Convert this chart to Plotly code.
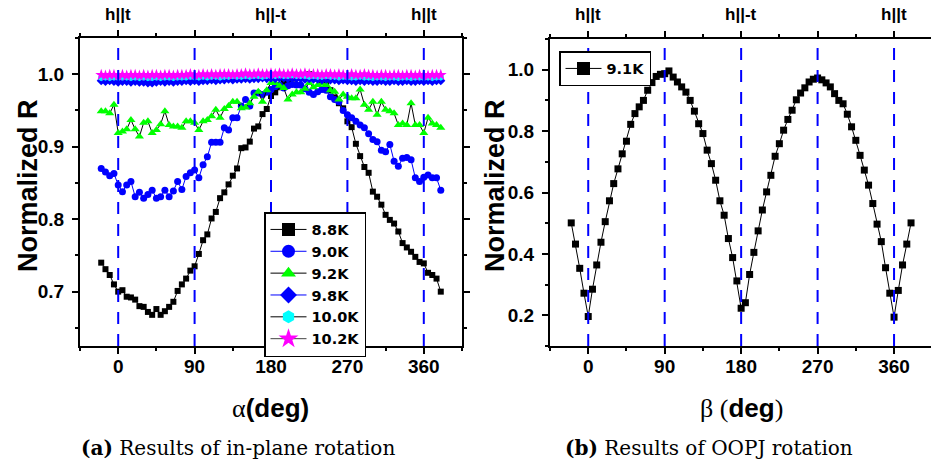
import plotly.graph_objects as go

# ---------------- data ----------------
angles = list(range(-20, 381, 5))  # rotation angle (deg), 81 points

r_88 = [0.740, 0.731, 0.723, 0.710, 0.700, 0.702, 0.693, 0.692, 0.689, 0.680,
        0.679, 0.672, 0.668, 0.676, 0.668, 0.673, 0.679, 0.686, 0.701, 0.710,
        0.718, 0.729, 0.735, 0.752, 0.771, 0.779, 0.801, 0.810, 0.829, 0.837,
        0.848, 0.860, 0.870, 0.898, 0.899, 0.907, 0.925, 0.928, 0.945, 0.952,
        0.970, 0.975, 0.982, 0.988, 0.992, 0.994, 0.996, 0.997, 0.998, 1.000,
        0.997, 0.994, 0.990, 0.985, 0.978, 0.968, 0.960, 0.953, 0.935, 0.927,
        0.904, 0.887, 0.872, 0.864, 0.838, 0.831, 0.820, 0.806, 0.799, 0.794,
        0.783, 0.767, 0.761, 0.755, 0.748, 0.741, 0.739, 0.726, 0.723, 0.718,
        0.700]

r_90 = [0.870, 0.865, 0.860, 0.863, 0.847, 0.838, 0.847, 0.852, 0.831, 0.837,
        0.829, 0.834, 0.840, 0.829, 0.831, 0.840, 0.831, 0.839, 0.852, 0.841,
        0.859, 0.864, 0.868, 0.857, 0.875, 0.886, 0.906, 0.906, 0.906, 0.926,
        0.923, 0.940, 0.940, 0.956, 0.965, 0.956, 0.974, 0.974, 0.972, 0.975,
        0.979, 0.983, 0.985, 0.981, 0.984, 0.986, 0.985, 0.985, 0.980, 0.975,
        0.972, 0.976, 0.979, 0.978, 0.969, 0.965, 0.962, 0.950, 0.944, 0.940,
        0.935, 0.930, 0.926, 0.918, 0.910, 0.907, 0.895, 0.893, 0.903, 0.880,
        0.873, 0.884, 0.885, 0.882, 0.857, 0.852, 0.858, 0.861, 0.857, 0.857,
        0.840]

r_92 = [0.949, 0.949, 0.946, 0.958, 0.919, 0.921, 0.924, 0.937, 0.924, 0.914,
        0.933, 0.935, 0.919, 0.923, 0.931, 0.949, 0.930, 0.928, 0.928, 0.926,
        0.935, 0.935, 0.933, 0.923, 0.935, 0.937, 0.942, 0.951, 0.940, 0.952,
        0.956, 0.962, 0.962, 0.953, 0.954, 0.960, 0.969, 0.976, 0.962, 0.978,
        0.988, 0.988, 0.984, 0.981, 0.965, 0.972, 0.975, 0.975, 0.980, 0.988,
        0.982, 0.985, 0.987, 0.985, 0.978, 0.976, 0.965, 0.972, 0.969, 0.967,
        0.967, 0.979, 0.958, 0.951, 0.962, 0.944, 0.962, 0.951, 0.949, 0.946,
        0.930, 0.932, 0.930, 0.960, 0.930, 0.930, 0.919, 0.940, 0.932, 0.930,
        0.926]

r_98 = [0.991, 0.990, 0.991, 0.990, 0.989, 0.990, 0.990, 0.989, 0.990, 0.989,
        0.989, 0.988, 0.988, 0.989, 0.990, 0.989, 0.990, 0.989, 0.990, 0.990,
        0.991, 0.990, 0.991, 0.990, 0.991, 0.991, 0.992, 0.991, 0.992, 0.992,
        0.993, 0.992, 0.993, 0.993, 0.994, 0.993, 0.994, 0.994, 0.995, 0.994,
        0.995, 0.994, 0.995, 0.995, 0.994, 0.995, 0.994, 0.994, 0.993, 0.994,
        0.993, 0.993, 0.992, 0.993, 0.992, 0.992, 0.991, 0.992, 0.991, 0.991,
        0.990, 0.991, 0.990, 0.991, 0.990, 0.990, 0.991, 0.990, 0.990, 0.991,
        0.990, 0.990, 0.991, 0.990, 0.990, 0.991, 0.990, 0.991, 0.990, 0.991,
        0.991]

r_100 = [0.995, 0.996, 0.995, 0.996, 0.995, 0.996, 0.996, 0.995, 0.996, 0.995,
         0.996, 0.995, 0.995, 0.996, 0.995, 0.996, 0.996, 0.995, 0.996, 0.996,
         0.996, 0.997, 0.996, 0.996, 0.997, 0.996, 0.997, 0.997, 0.996, 0.997,
         0.997, 0.998, 0.997, 0.997, 0.998, 0.997, 0.998, 0.998, 0.997, 0.998,
         0.998, 0.998, 0.999, 0.998, 0.998, 0.999, 0.998, 0.998, 0.998, 0.997,
         0.998, 0.997, 0.997, 0.998, 0.997, 0.997, 0.996, 0.997, 0.996, 0.996,
         0.996, 0.997, 0.996, 0.996, 0.995, 0.996, 0.996, 0.995, 0.996, 0.996,
         0.995, 0.996, 0.996, 0.995, 0.996, 0.996, 0.995, 0.996, 0.995, 0.996,
         0.996]

r_102 = [0.999, 0.998, 0.999, 0.999, 0.998, 0.999, 0.998, 0.999, 0.999, 0.998,
         0.999, 0.998, 0.999, 0.999, 0.998, 0.999, 0.999, 0.998, 0.999, 0.999,
         0.999, 1.000, 0.999, 0.999, 1.000, 0.999, 1.000, 0.999, 1.000, 1.000,
         1.000, 0.999, 1.000, 1.000, 1.001, 1.000, 1.000, 1.001, 1.000, 1.000,
         1.001, 1.000, 1.001, 1.000, 1.000, 1.001, 1.000, 1.000, 1.001, 1.000,
         1.000, 1.000, 0.999, 1.000, 1.000, 0.999, 1.000, 0.999, 0.999, 1.000,
         0.999, 0.999, 1.000, 0.999, 0.999, 0.998, 0.999, 0.999, 0.998, 0.999,
         0.999, 0.998, 0.999, 0.999, 0.998, 0.999, 0.999, 0.998, 0.999, 0.999,
         0.999]

r_91 = [0.501, 0.432, 0.353, 0.272, 0.196, 0.285, 0.364, 0.438, 0.505, 0.573,
        0.629, 0.677, 0.726, 0.767, 0.822, 0.857, 0.879, 0.900, 0.933, 0.958,
        0.978, 0.985, 0.987, 0.996, 0.976, 0.960, 0.944, 0.927, 0.900, 0.865,
        0.824, 0.792, 0.738, 0.694, 0.640, 0.573, 0.526, 0.450, 0.388, 0.312,
        0.223, 0.241, 0.333, 0.405, 0.475, 0.543, 0.602, 0.656, 0.718, 0.759,
        0.803, 0.838, 0.868, 0.902, 0.924, 0.941, 0.960, 0.969, 0.973, 0.967,
        0.957, 0.944, 0.922, 0.900, 0.889, 0.855, 0.814, 0.770, 0.721, 0.673,
        0.624, 0.564, 0.497, 0.440, 0.355, 0.272, 0.194, 0.281, 0.364, 0.432,
        0.501]

series_a_names = ["8.8K", "9.0K", "9.2K", "9.8K", "10.0K", "10.2K"]
series_a_values = [r_88, r_90, r_92, r_98, r_100, r_102]
series_b_name = "9.1K"

ref_angles = [0, 90, 180, 270, 360]
top_label_angles = [0, 180, 360]
top_labels = ["h||t", "h||-t", "h||t"]

# ---------------- styles ----------------
W, H = 931, 463
SANS = "Liberation Sans"
LEGSANS = "DejaVu Sans"
SERIF = "DejaVu Serif"

styles_a = [
    dict(symbol="square", color="black", size=6, line="black"),
    dict(symbol="circle", color="#0000ff", size=7, line="#0000ff"),
    dict(symbol="triangle-up", color="#00ff00", size=8, line="black"),
    dict(symbol="diamond", color="#0000ff", size=7, line="#0000ff"),
    dict(symbol="hexagon", color="#00ffff", size=7, line="black"),
    dict(symbol="star", color="#ff00ff", size=9, line="#444444"),
]

fig = go.Figure()

for name, vals, st in zip(series_a_names, series_a_values, styles_a):
    fig.add_trace(go.Scatter(
        x=angles, y=vals, mode="lines+markers", showlegend=False,
        line=dict(color=st["line"], width=1),
        marker=dict(symbol=st["symbol"], size=st["size"], color=st["color"],
                    line=dict(width=0)),
        xaxis="x", yaxis="y"))
# legend entries (larger symbols)
for name, st in zip(series_a_names, styles_a):
    fig.add_trace(go.Scatter(
        x=[None], y=[None], mode="lines+markers", name=name, legend="legend",
        line=dict(color=st["line"], width=1),
        marker=dict(symbol=st["symbol"], size=13 if st["symbol"] != "star" else 15,
                    color=st["color"], line=dict(width=0)),
        xaxis="x", yaxis="y"))

fig.add_trace(go.Scatter(
    x=angles, y=r_91, mode="lines+markers", showlegend=False,
    line=dict(color="black", width=1),
    marker=dict(symbol="square", size=7, color="black"),
    xaxis="x2", yaxis="y2"))
fig.add_trace(go.Scatter(
    x=[None], y=[None], mode="lines+markers", name=series_b_name, legend="legend2",
    line=dict(color="black", width=1),
    marker=dict(symbol="square", size=13, color="black"),
    xaxis="x2", yaxis="y2"))

tickfont = dict(family=SANS, size=19, color="black", weight="bold")
common = dict(showline=True, linecolor="black", linewidth=2, ticks="outside",
              ticklen=6, tickwidth=2, tickcolor="black", showgrid=False,
              zeroline=False, tickfont=tickfont)
minor_x = dict(ticks="outside", ticklen=3, tickwidth=1.5, tickcolor="black",
               tick0=0, dtick=45)

fig.update_layout(
    width=W, height=H, autosize=False,
    margin=dict(l=0, r=0, t=0, b=0),
    paper_bgcolor="white", plot_bgcolor="white",
    xaxis=dict(common, domain=[80 / W, 462 / W], range=[-45, 405], tick0=0, dtick=90,
               mirror="ticks", anchor="y", ticklabelstandoff=-4, minor=minor_x),
    yaxis=dict(common, domain=[1 - 346 / H, 1 - 38 / H], range=[0.625, 1.05],
               tick0=0, dtick=0.1, tickformat=".1f", mirror="ticks", anchor="x",
               ticklabelstandoff=4,
               minor=dict(ticks="outside", ticklen=3, tickwidth=1.5, tickcolor="black",
                          tick0=0, dtick=0.05)),
    xaxis2=dict(common, domain=[550 / W, 1.0], range=[-45, 403.5], tick0=0, dtick=90,
                mirror="ticks", anchor="y2", ticklabelstandoff=-4, minor=minor_x),
    yaxis2=dict(common, domain=[1 - 346 / H, 1 - 39 / H], range=[0.1, 1.1],
                tick0=0, dtick=0.2, tickformat=".1f", mirror=False, anchor="x2",
                ticklabelstandoff=4,
                minor=dict(ticks="outside", ticklen=3, tickwidth=1.5, tickcolor="black",
                           tick0=0, dtick=0.1)),
    legend=dict(x=264 / W, y=1 - 212 / H, xanchor="left", yanchor="top",
                bgcolor="white", bordercolor="black", borderwidth=1.5,
                font=dict(family=LEGSANS, size=14.5, color="black", weight="bold"),
                tracegroupgap=0, itemwidth=36),
    legend2=dict(x=559 / W, y=1 - 51 / H, xanchor="left", yanchor="top",
                 bgcolor="white", bordercolor="black", borderwidth=1.5,
                 font=dict(family=LEGSANS, size=14.5, color="black", weight="bold"),
                 itemwidth=36),
)

# dashed reference lines
for xa in ["x", "x2"]:
    for a in ref_angles:
        fig.add_shape(type="line", xref=xa, yref=xa.replace("x", "y") + " domain",
                      x0=a, x1=a, y0=0, y1=1, layer="above",
                      line=dict(color="#0000ff", width=2, dash="12px,10px"))

# top labels
for xa in ["x", "x2"]:
    for a, t in zip(top_label_angles, top_labels):
        fig.add_annotation(x=a, xref=xa, y=1 - 15 / H, yref="paper", text=t,
                           showarrow=False, xanchor="center", yanchor="middle",
                           font=dict(family=SANS, size=17, color="black", weight="bold"))

# axis titles
for xc in [28, 495]:
    fig.add_annotation(x=xc / W, y=1 - 186 / H, xref="paper", yref="paper",
                       text="<b>Normalized R</b>", textangle=-90, showarrow=False,
                       xanchor="center", yanchor="middle",
                       font=dict(family=SANS, size=27, color="black"))

fig.add_annotation(x=270 / W, y=1 - 408 / H, xref="paper", yref="paper",
                   text="<span style=\"font-family:Liberation Serif\">α</span><b>(deg)</b>",
                   showarrow=False, xanchor="center", yanchor="middle",
                   font=dict(family=SANS, size=26, color="black"))
fig.add_annotation(x=741 / W, y=1 - 408 / H, xref="paper", yref="paper",
                   text="<span style=\"font-family:Liberation Serif\">β (</span><b>deg</b><span style=\"font-family:Liberation Serif\">)</span>",
                   showarrow=False, xanchor="center", yanchor="middle",
                   font=dict(family=SANS, size=26, color="black"))

# captions
fig.add_annotation(x=238 / W, y=1 - 448 / H, xref="paper", yref="paper",
                   text="<b>(a)</b> Results of in-plane rotation",
                   showarrow=False, xanchor="center", yanchor="middle",
                   font=dict(family=SERIF, size=20, color="black"))
fig.add_annotation(x=709 / W, y=1 - 448 / H, xref="paper", yref="paper",
                   text="<b>(b)</b> Results of OOPJ rotation",
                   showarrow=False, xanchor="center", yanchor="middle",
                   font=dict(family=SERIF, size=20, color="black"))

fig.write_html("out.html")
